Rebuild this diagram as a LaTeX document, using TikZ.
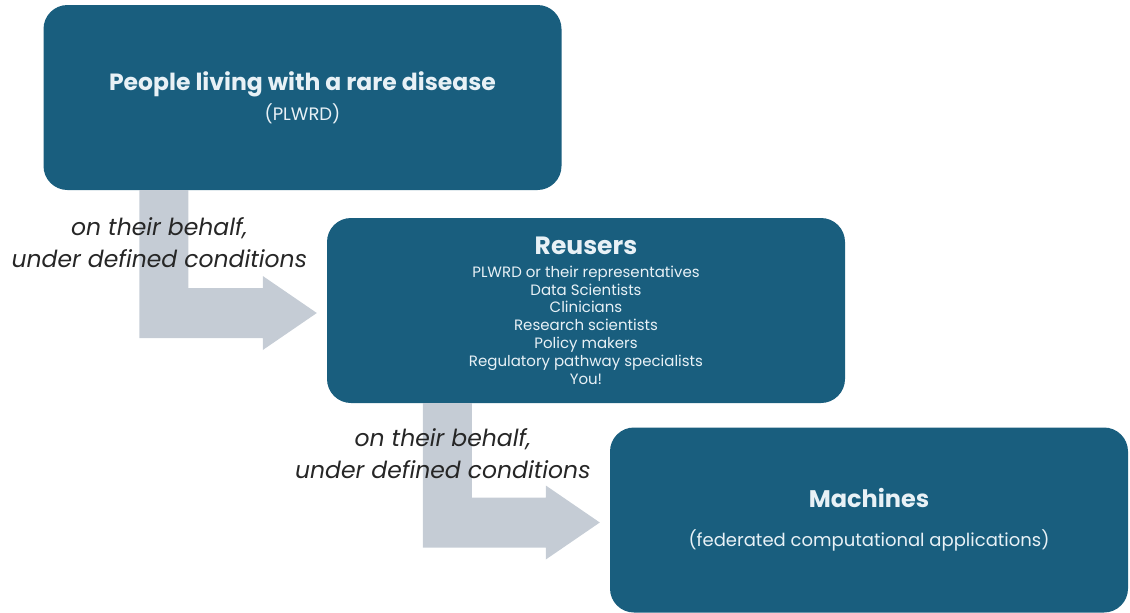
\documentclass[tikz,border=0pt]{standalone}
\usepackage{fontspec}
\setmainfont{Poppins}
\usetikzlibrary{calc}

\definecolor{boxblue}{RGB}{25,94,126}
\definecolor{arrowgrey}{RGB}{197,204,213}
\definecolor{labelgrey}{RGB}{38,38,38}
\definecolor{boxtext}{RGB}{232,241,246}

\begin{document}
\begin{tikzpicture}[x=1pt, y=-1pt,
                    stagebox/.style={fill=boxblue, rounded corners=24pt, text=boxtext,
                                     minimum width=518pt, minimum height=185pt, align=center},
                    flowarrow/.style={fill=arrowgrey},
                    behalf/.style={text=labelgrey, align=center,
                                   font=\fontsize{23.5}{32}\selectfont\itshape}
]
\useasboundingbox (0,0) rectangle (1130,613);

% Draw the three stages (pixel-like coordinates, y grows downwards)
\node [stagebox, font=\fontsize{18}{22}\selectfont] at (302.5,97.5) (plwrd)
    {{\fontsize{23.5}{26}\selectfont\bfseries People living with a rare disease}\\[6pt]
     (PLWRD)};
\node [stagebox, font=\fontsize{15}{17.8}\selectfont] at (586,310.5) (reusers)
    {{\fontsize{25}{28}\selectfont\bfseries Reusers}\\[5pt]
     PLWRD or their representatives\\
     Data Scientists\\
     Clinicians\\
     Research scientists\\
     Policy makers\\
     Regulatory pathway specialists\\
     You!};
\node [stagebox, font=\fontsize{18}{22}\selectfont] at (869,520) (machines)
    {{\fontsize{24}{27}\selectfont\bfseries Machines}\\[17pt]
     (federated computational applications)};

% Bent arrows: from the bottom of one stage to the side of the next
%
% PLWRD to reusers.
\coordinate (root1) at ($(plwrd.south west)+(96,0)$);
\coordinate (tip1) at ($(reusers.west)+(-10,2.5)$);
\fill[flowarrow]
    % down the shaft
    (root1) -- ++(49,0) |- ($(tip1)+(-54,-25)$)
    % arrow head
    -- ++(0,-12) -- (tip1) -- ($(tip1)+(-54,37)$) -- ++(0,-12)
    % back along the shaft
    -| (root1) -- cycle;
%
% Reusers to machines.
\coordinate (root2) at ($(reusers.south west)+(96,0)$);
\coordinate (tip2) at ($(machines.west)+(-10,2.5)$);
\fill[flowarrow]
    (root2) -- ++(49,0) |- ($(tip2)+(-54,-25)$)
    -- ++(0,-12) -- (tip2) -- ($(tip2)+(-54,37)$) -- ++(0,-12)
    -| (root2) -- cycle;

% Label the arrows.
\node [behalf] at ($(root1)+(20,52)$) (behalf1) {on their behalf,\\under defined conditions};
\node [behalf] at ($(root2)+(20,50)$) (behalf2) {on their behalf,\\under defined conditions};

\end{tikzpicture}
\end{document}
